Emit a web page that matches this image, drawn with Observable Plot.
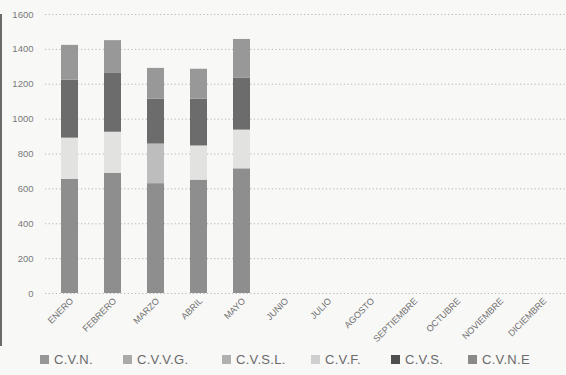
<!DOCTYPE html>
<html>
<head>
<meta charset="utf-8">
<script src="https://cdn.jsdelivr.net/npm/d3@7"></script>
<script src="https://cdn.jsdelivr.net/npm/@observablehq/plot@0.6"></script>
<style>
  html, body { margin: 0; padding: 0; background: #f8f8f7; }
  #wrap { position: relative; width: 566px; height: 375px; overflow: hidden; font-family: "Liberation Sans", Arial, sans-serif; }
  #edge { position: absolute; left: 0; top: 14px; width: 2px; height: 332px; background: #6a6a6a; }
  #legend { position: absolute; left: 0; top: 350px; width: 566px; height: 24px; }
  .item { position: absolute; top: 2px; font-size: 13px; color: #6a6a6a; display: flex; align-items: center; letter-spacing: 0.3px; }
  .sw { width: 9px; height: 9px; margin-right: 5px; display: inline-block; }
  svg { display: block; overflow: visible; }
</style>
</head>
<body>
<div id="wrap"><div id="chart"></div><div id="edge"></div><div id="legend"></div></div>
<script>
const months = ["ENERO","FEBRERO","MARZO","ABRIL","MAYO","JUNIO","JULIO","AGOSTO","SEPTIEMBRE","OCTUBRE","NOVIEMBRE","DICIEMBRE"];
const seriesNames = ["C.V.N.","C.V.V.G.","C.V.S.L.","C.V.F.","C.V.S.","C.V.N.E"];
const cvn  = [655, 690, 630, 650, 715, 0, 0, 0, 0, 0, 0, 0];
const cvvg = [0, 0, 0, 0, 0, 0, 0, 0, 0, 0, 0, 0];
const cvsl = [0, 0, 227, 0, 0, 0, 0, 0, 0, 0, 0, 0];
const cvf  = [236, 235, 0, 196, 222, 0, 0, 0, 0, 0, 0, 0];
const cvs  = [332, 337, 257, 268, 297, 0, 0, 0, 0, 0, 0, 0];
const cvne = [200, 188, 177, 172, 223, 0, 0, 0, 0, 0, 0, 0];
const yTicks = [0, 200, 400, 600, 800, 1000, 1200, 1400, 1600];

const colors = ["#8e8e8e", "#a4a4a4", "#bdbdbd", "#e2e2e0", "#6c6c6c", "#989898"];
const swatches = ["#979797", "#aaaaaa", "#b0b0b0", "#cfcfcf", "#4e4e4e", "#8a8a8a"];
const legendX = [40, 123, 222, 311, 391, 468];

const valueArrays = [cvn, cvvg, cvsl, cvf, cvs, cvne];
const data = [];
months.forEach((m, i) => {
  seriesNames.forEach((s, j) => {
    data.push({month: m, series: s, value: valueArrays[j][i]});
  });
});

const chart = Plot.plot({
  width: 566,
  height: 350,
  marginLeft: 45,
  marginRight: 0,
  marginTop: 14,
  marginBottom: 57,
  style: {background: "transparent", fontFamily: "Liberation Sans, Arial, sans-serif"},
  x: {domain: months, paddingInner: 0.61, paddingOuter: 0.305, label: null},
  y: {domain: [0, 1600], label: null},
  color: {domain: seriesNames, range: colors},
  marks: [
    Plot.gridY(yTicks, {stroke: "#9a9a9a", strokeOpacity: 0.7, strokeDasharray: "1.2,2.4", strokeWidth: 1}),
    Plot.barY(data, {x: "month", y: "value", fill: "series", z: "series"}),
    Plot.axisY(yTicks, {tickSize: 0, tickPadding: 12, fontSize: 9.5, fill: "#7a7a7a", label: null, tickFormat: d => String(d)}),
    Plot.axisX(months, {tickSize: 0, tickRotate: -45, tickPadding: 6, fontSize: 9, fill: "#6e6e6e", label: null, dx: 2})
  ]
});
document.getElementById("chart").appendChild(chart);

const legend = document.getElementById("legend");
seriesNames.forEach((s, i) => {
  const it = document.createElement("div");
  it.className = "item";
  it.style.left = legendX[i] + "px";
  const sw = document.createElement("span");
  sw.className = "sw";
  sw.style.background = swatches[i];
  it.appendChild(sw);
  it.appendChild(document.createTextNode(s));
  legend.appendChild(it);
});
</script>
</body>
</html>
